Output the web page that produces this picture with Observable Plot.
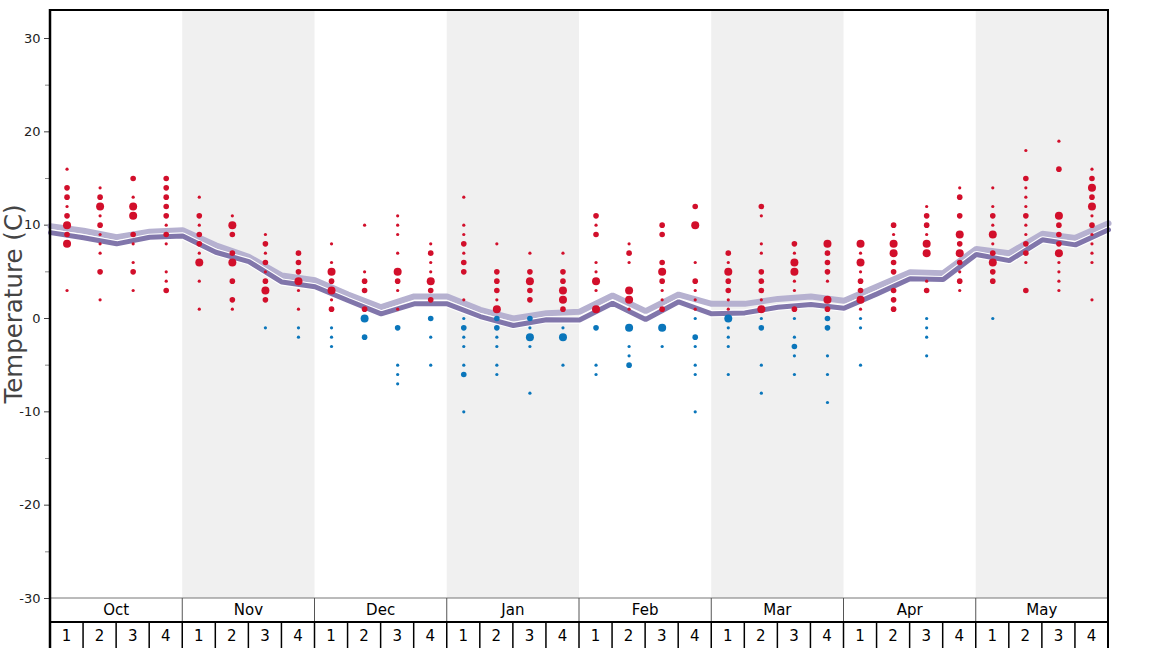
<!DOCTYPE html>
<html>
<head>
<meta charset="utf-8">
<script src="https://cdn.jsdelivr.net/npm/d3@7"></script>
<script src="https://cdn.jsdelivr.net/npm/@observablehq/plot@0.6"></script>
<style>
  html, body { margin: 0; padding: 0; background: #fff; }
  #chart svg { display: block; font-family: "DejaVu Sans", sans-serif; }
</style>
</head>
<body>
<div id="chart"></div>
<script>
// ---------- data ----------
const months = ["Oct", "Nov", "Dec", "Jan", "Feb", "Mar", "Apr", "May"];
const weekLabels = ["1", "2", "3", "4"];
const shadedMonths = ["Nov", "Jan", "Mar", "May"];
const yTicks = [-30, -20, -10, 0, 10, 20, 30];
const yMinorTicks = [-25, -15, -5, 5, 15, 25];
const yLabel = "Temperature (C)";

// observations per week: [temperature, number of years]
const octObs = [
  [[16,1],[14,2],[13,2],[12,1],[11,2],[10,3],[9,2],[8,3],[3,1]],
  [[14,1],[13,2],[12,3],[11,1],[10,2],[9,1],[8,1],[7,1],[5,2],[2,1]],
  [[15,2],[13,1],[12,3],[11,3],[9,2],[8,1],[6,1],[5,2],[3,1]],
  [[15,2],[14,2],[13,2],[12,2],[11,2],[10,1],[9,2],[8,1],[5,1],[4,1],[3,2]]
];
const novObs = [
  [[13,1],[11,2],[10,1],[9,2],[8,2],[7,1],[6,3],[4,1],[1,1]],
  [[11,1],[10,3],[9,2],[7,2],[6,3],[4,2],[2,2],[1,1]],
  [[9,1],[8,2],[7,1],[6,2],[5,1],[4,2],[3,3],[2,2],[-1,1]],
  [[7,2],[6,2],[5,2],[4,3],[3,1],[1,1],[-1,1],[-2,1]]
];
const decObs = [
  [[8,1],[6,1],[5,3],[4,2],[3,3],[2,1],[1,2],[-1,1],[-2,1],[-3,1]],
  [[10,1],[5,1],[4,2],[3,2],[1,2],[0,3],[-2,2]],
  [[11,1],[10,1],[9,1],[7,1],[5,3],[4,2],[3,1],[1,1],[-1,2],[-5,1],[-6,1],[-7,1]],
  [[8,1],[7,2],[6,1],[5,1],[4,3],[3,2],[2,2],[0,2],[-2,1],[-5,1]]
];
const janObs = [
  [[13,1],[10,1],[9,1],[8,2],[7,1],[6,2],[5,2],[2,1],[0,1],[-1,2],[-2,1],[-3,1],[-5,1],[-6,2],[-10,1]],
  [[8,1],[5,2],[4,2],[3,2],[2,1],[1,3],[0,2],[-1,2],[-2,1],[-3,1],[-5,1],[-6,1]],
  [[7,1],[5,2],[4,3],[3,2],[2,2],[0,2],[-1,1],[-2,3],[-3,1],[-8,1]],
  [[7,1],[5,2],[4,2],[3,3],[2,3],[1,2],[-1,1],[-2,3],[-5,1]]
];
const febObs = [
  [[11,2],[10,1],[9,2],[6,1],[5,1],[4,3],[3,1],[1,3],[-1,2],[-5,1],[-6,1]],
  [[8,1],[7,2],[6,1],[3,3],[2,3],[1,1],[-1,3],[-3,1],[-4,1],[-5,2]],
  [[10,2],[9,2],[6,2],[5,3],[4,2],[3,1],[2,1],[1,2],[-1,3],[-3,1]],
  [[12,2],[10,3],[6,1],[4,2],[3,1],[2,1],[1,1],[0,1],[-2,2],[-3,1],[-5,1],[-6,1],[-10,1]]
];
const marObs = [
  [[7,2],[6,1],[5,3],[4,2],[3,2],[2,1],[1,1],[0,3],[-1,1],[-2,1],[-3,1],[-6,1]],
  [[12,2],[11,1],[8,1],[7,1],[5,2],[4,2],[3,2],[2,1],[1,3],[0,1],[-1,2],[-5,1],[-8,1]],
  [[8,2],[7,1],[6,3],[5,3],[4,1],[3,1],[1,2],[0,1],[-2,1],[-3,2],[-4,1],[-6,1]],
  [[8,3],[7,2],[6,2],[5,2],[4,1],[2,3],[1,2],[0,2],[-1,2],[-4,1],[-6,1],[-9,1]]
];
const aprObs = [
  [[8,3],[7,1],[6,3],[5,1],[4,2],[3,2],[2,3],[1,1],[0,1],[-1,1],[-5,1]],
  [[10,2],[9,1],[8,3],[7,3],[6,2],[5,2],[3,2],[2,2],[1,2]],
  [[12,1],[11,2],[10,2],[9,1],[8,3],[7,3],[4,1],[3,2],[0,1],[-1,1],[-2,1],[-4,1]],
  [[14,1],[13,2],[11,2],[9,3],[8,2],[7,3],[6,2],[5,1],[4,2],[3,1]]
];
const mayObs = [
  [[14,1],[12,1],[11,2],[10,1],[9,3],[8,1],[7,2],[6,3],[5,2],[4,2],[0,1]],
  [[18,1],[15,2],[14,1],[13,1],[12,1],[11,2],[10,1],[9,1],[8,2],[7,2],[6,1],[3,2]],
  [[19,1],[16,2],[11,3],[10,2],[9,2],[8,2],[7,3],[6,1],[5,1],[4,1],[3,1]],
  [[16,1],[15,2],[14,3],[13,2],[12,3],[11,1],[10,2],[9,1],[8,1],[7,1],[6,1],[2,1]]
];

// smoothed curves at week boundaries (33 points)
const upperLine = [9.9, 9.4, 8.7, 9.3, 9.45, 7.85, 6.6, 4.6, 4.1, 2.57, 1.21, 2.36, 2.36, 0.93, 0.0, 0.57, 0.72,
                   2.46, 0.79, 2.57, 1.57, 1.57, 2.1, 2.36, 1.9, 3.43, 4.96, 4.86, 7.46, 7.0, 9.07, 8.64, 10.2];
const lowerLine = [9.2, 8.65, 8.0, 8.7, 8.85, 7.1, 6.1, 3.9, 3.4, 1.93, 0.5, 1.57, 1.57, 0.21, -0.75, -0.14, -0.17,
                   1.64, -0.11, 1.79, 0.5, 0.6, 1.21, 1.5, 1.1, 2.64, 4.25, 4.18, 6.86, 6.2, 8.43, 7.89, 9.5];

// ---------- tables built from the arrays ----------
const obsByMonth = [octObs, novObs, decObs, janObs, febObs, marObs, aprObs, mayObs];
const nW = weekLabels.length;
const dots = [];
obsByMonth.forEach((weeks, mi) => weeks.forEach((obs, wi) => obs.forEach(([t, c]) => {
  dots.push({week: mi * nW + wi + 0.5, t, c, side: t > 0 ? "warm" : "cold"});
})));
const monthSpans = months.map((m, i) => ({month: m, start: i * nW, end: (i + 1) * nW}));
const upper = upperLine.map((v, k) => ({k, v}));
const lower = lowerLine.map((v, k) => ({k, v}));

const W = 1168, H = 648;
const chart = Plot.plot({
  width: W, height: H,
  marginLeft: 50, marginRight: 60, marginTop: 10, marginBottom: 50,
  style: {fontFamily: "DejaVu Sans, sans-serif", fontSize: "13px", color: "#222", background: "#fff", overflow: "visible"},
  x: {domain: [0, months.length * nW], axis: null},
  y: {domain: [-30, 33], axis: null},
  r: {type: "linear", domain: [1, 3], range: [1.6, 4.0]},
  color: {domain: ["warm", "cold"], range: ["#d20f2b", "#0a76bb"]},
  marks: [
    Plot.rect(monthSpans.filter(d => shadedMonths.includes(d.month)), {x1: "start", x2: "end", fill: "#f0f0f0"}),
    Plot.axisY(yMinorTicks, {tickSize: 5, tickFormat: () => "", label: null, stroke: "#888"}),
    Plot.axisY(yTicks, {tickSize: 6, tickPadding: 4, tickFormat: d => String(d), label: null, stroke: "#444", fill: "#222", fontSize: 13}),
    Plot.line(upper, {x: "k", y: "v", stroke: "#b6b1d0", strokeWidth: 6, strokeLinejoin: "miter"}),
    Plot.line(lower, {x: "k", y: "v", stroke: "#fff", strokeWidth: 7.2, strokeLinejoin: "miter"}),
    Plot.line(lower, {x: "k", y: "v", stroke: "#8176ab", strokeWidth: 5, strokeLinejoin: "miter"}),
    Plot.dot(dots, {x: "week", y: "t", r: "c", fill: "side", stroke: null})
  ]
});
document.getElementById("chart").appendChild(chart);

// ---------- frame & two-row band axis ----------
const svg = d3.select(chart);
const xs = chart.scale("x"), ys = chart.scale("y");
const [x0, x1] = xs.range;
const [yb, yt] = ys.range;
const rowH = 24;
const g = svg.append("g").attr("font-family", "DejaVu Sans, sans-serif").attr("fill", "#000");

// month row
g.append("line").attr("x1", x0).attr("x2", x1).attr("y1", yb).attr("y2", yb).attr("stroke", "#777").attr("stroke-width", 1);
monthSpans.forEach((d, i) => {
  const a = xs.apply(d.start), b = xs.apply(d.end);
  if (i > 0) g.append("line").attr("x1", a).attr("x2", a).attr("y1", yb).attr("y2", yb + rowH).attr("stroke", "#555").attr("stroke-width", 1);
  g.append("text").attr("x", (a + b) / 2).attr("y", yb + rowH / 2).attr("dy", "0.36em")
    .attr("text-anchor", "middle").attr("font-size", 15).attr("fill", "#000").text(d.month);
  weekLabels.forEach((w, j) => {
    const c = xs.apply(d.start + j + 0.5);
    g.append("text").attr("x", c).attr("y", yb + rowH + (H - yb - rowH) / 2 + 1).attr("dy", "0.36em")
      .attr("text-anchor", "middle").attr("font-size", 15).attr("fill", "#000").text(w);
  });
});
// week row
g.append("line").attr("x1", x0).attr("x2", x1).attr("y1", yb + rowH).attr("y2", yb + rowH).attr("stroke", "#000").attr("stroke-width", 2);
for (let k = 1; k < months.length * nW; k++) {
  const a = xs.apply(k);
  g.append("line").attr("x1", a).attr("x2", a).attr("y1", yb + rowH).attr("y2", H).attr("stroke", "#000").attr("stroke-width", 1.5);
}
// frame: top, left, right
g.append("line").attr("x1", x0 - 1).attr("x2", x1 + 1).attr("y1", yt).attr("y2", yt).attr("stroke", "#000").attr("stroke-width", 2);
g.append("line").attr("x1", x0).attr("x2", x0).attr("y1", yt - 1).attr("y2", H).attr("stroke", "#000").attr("stroke-width", 2.5);
g.append("line").attr("x1", x1).attr("x2", x1).attr("y1", yt - 1).attr("y2", H).attr("stroke", "#000").attr("stroke-width", 2);

// y label
g.append("text")
  .attr("transform", `translate(${x0 - 37},${(yt + yb) / 2}) rotate(-90)`)
  .attr("text-anchor", "middle").attr("dy", "0.36em")
  .attr("font-size", 24.5).attr("fill", "#444").text(yLabel);
</script>
</body>
</html>
